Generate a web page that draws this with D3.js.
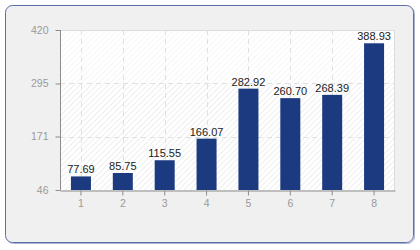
<!DOCTYPE html>
<html>
<head>
<meta charset="utf-8">
<script src="https://cdn.jsdelivr.net/npm/d3@7"></script>
<style>
  body { margin: 0; background: #ffffff; }
  svg { display: block; }
</style>
</head>
<body>
<div id="chart"></div>
<script>
// data
let categories = ["1", "2", "3", "4", "5", "6", "7", "8"];
let values = [77.69, 85.75, 115.55, 166.07, 282.92, 260.70, 268.39, 388.93];
let yTicks = [46, 171, 295, 420];

let width = 420;
let height = 250;
let margin = ({top: 30, right: 25, bottom: 60, left: 60});

let svg = d3.select("#chart")
    .append("svg")
    .attr("width", width)
    .attr("height", height);

let defs = svg.append("defs");

// diagonal hatch for the plot background
let hatch = defs.append("pattern")
    .attr("id", "hatch")
    .attr("patternUnits", "userSpaceOnUse")
    .attr("width", 4)
    .attr("height", 4)
    .attr("patternTransform", "rotate(45)");
hatch.append("rect").attr("width", 4).attr("height", 4).attr("fill", "#ffffff");
hatch.append("line")
    .attr("x1", 0).attr("y1", 0).attr("x2", 0).attr("y2", 4)
    .attr("stroke", "#e4e4e4").attr("stroke-width", 1.2);

let fade = defs.append("linearGradient")
    .attr("id", "fade")
    .attr("x1", 0).attr("y1", 0).attr("x2", 0).attr("y2", 1);
fade.append("stop").attr("offset", "0%").attr("stop-color", "#fff").attr("stop-opacity", 0.6);
fade.append("stop").attr("offset", "33%").attr("stop-color", "#fff").attr("stop-opacity", 0.4);
fade.append("stop").attr("offset", "34%").attr("stop-color", "#fff").attr("stop-opacity", 0);
fade.append("stop").attr("offset", "100%").attr("stop-color", "#fff").attr("stop-opacity", 0);

// outer panel with shadow
svg.append("rect")
    .attr("x", 6.5).attr("y", 6.5)
    .attr("width", 408).attr("height", 237)
    .attr("rx", 7)
    .attr("fill", "none")
    .attr("stroke", "#aab4d2")
    .attr("stroke-width", 1);
svg.append("rect")
    .attr("x", 5.5).attr("y", 5.5)
    .attr("width", 408).attr("height", 237)
    .attr("rx", 7)
    .attr("fill", "#f0f0f0")
    .attr("stroke", "#5a6eaa")
    .attr("stroke-width", 1);

let x = d3.scaleBand()
    .domain(categories)
    .range([margin.left, width - margin.right])
    .padding(0);

let y = d3.scaleLinear()
    .domain([46, 420])
    .range([height - margin.bottom, margin.top]);

let plotW = width - margin.left - margin.right;
let plotH = height - margin.top - margin.bottom;

// plot background
svg.append("rect")
    .attr("x", margin.left).attr("y", margin.top)
    .attr("width", plotW).attr("height", plotH)
    .attr("fill", "url(#hatch)");
svg.append("rect")
    .attr("x", margin.left).attr("y", margin.top)
    .attr("width", plotW).attr("height", plotH)
    .attr("fill", "url(#fade)");

// plot border top / right
svg.append("path")
    .attr("d", `M${margin.left},${margin.top + 0.5}H${width - margin.right - 0.5}V${height - margin.bottom}`)
    .attr("fill", "none")
    .attr("stroke", "#dcdcdc");

// grid lines
svg.append("g")
    .selectAll("line")
    .data(yTicks.slice(1, -1))
    .join("line")
    .attr("x1", margin.left).attr("x2", width - margin.right)
    .attr("y1", d => Math.round(y(d)) + 0.5).attr("y2", d => Math.round(y(d)) + 0.5)
    .attr("stroke", "#e0e0e0")
    .attr("stroke-dasharray", "5,4");

svg.append("g")
    .selectAll("line")
    .data(categories)
    .join("line")
    .attr("x1", d => Math.round(x(d) + x.bandwidth() / 2) + 0.5)
    .attr("x2", d => Math.round(x(d) + x.bandwidth() / 2) + 0.5)
    .attr("y1", margin.top).attr("y2", height - margin.bottom)
    .attr("stroke", "#e0e0e0")
    .attr("stroke-dasharray", "5,4");

// bars
let barW = 20;
svg.append("g")
    .selectAll("rect")
    .data(values)
    .join("rect")
    .attr("x", (d, i) => x(categories[i]) + x.bandwidth() / 2 - barW / 2)
    .attr("y", d => y(d))
    .attr("width", barW)
    .attr("height", d => y(46) - y(d))
    .attr("fill", "#1b3a80");

// value labels
svg.append("g")
    .selectAll("text")
    .data(values)
    .join("text")
    .attr("x", (d, i) => x(categories[i]) + x.bandwidth() / 2)
    .attr("y", d => y(d) - 3)
    .attr("text-anchor", "middle")
    .attr("font-family", "Liberation Sans, Arial, sans-serif")
    .attr("font-size", 11)
    .attr("fill", "#222")
    .text(d => d.toFixed(2));

// axes
let yAxis = d3.axisLeft(y)
    .tickValues(yTicks)
    .tickSize(5)
    .tickPadding(7)
    .tickSizeOuter(0);

let xAxis = d3.axisBottom(x)
    .tickSize(5)
    .tickPadding(4)
    .tickSizeOuter(0);

let gy = svg.append("g")
    .attr("transform", `translate(${margin.left + 0.5},0)`)
    .call(yAxis);

let gx = svg.append("g")
    .attr("transform", `translate(0,${height - margin.bottom + 0.5})`)
    .call(xAxis);

[gx, gy].forEach(function(g) {
    g.select(".domain").attr("stroke", "#8c8c8c");
    g.selectAll(".tick line").attr("stroke", "#8c8c8c");
    g.selectAll(".tick text")
        .attr("fill", "#9a9a9a")
        .attr("font-family", "Liberation Sans, Arial, sans-serif")
        .attr("font-size", 10.5);
});
gy.select(".domain").attr("d", `M0,${margin.top}V${height - margin.bottom}`);
</script>
</body>
</html>
